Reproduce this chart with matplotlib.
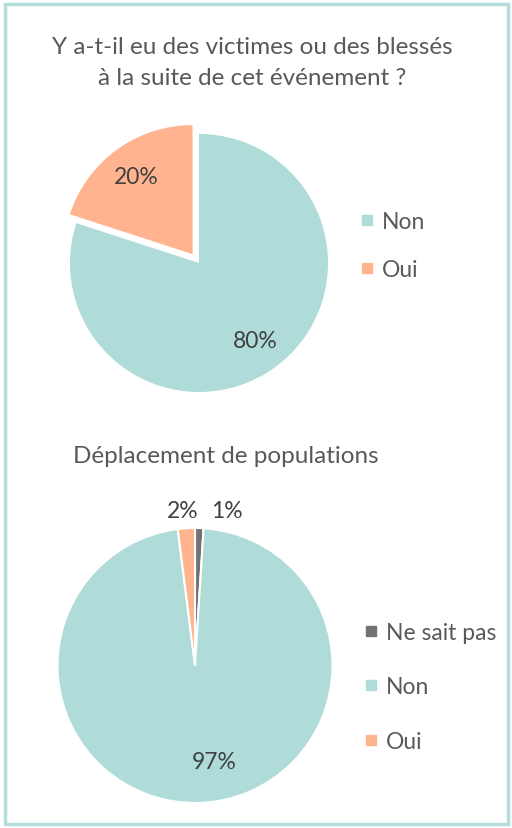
import matplotlib
matplotlib.use("Agg")
import matplotlib.pyplot as plt
from matplotlib.lines import Line2D
from matplotlib.patches import Rectangle

plt.rcParams["font.family"] = ["Lato", "DejaVu Sans"]

# data
title1 = "Y a-t-il eu des victimes ou des blessés\nà la suite de cet événement ?"
labels1 = ["Non", "Oui"]
values1 = [80, 20]
colors1 = ["#afdcd9", "#ffb48f"]

title2 = "Déplacement de populations"
labels2 = ["Ne sait pas", "Non", "Oui"]
values2 = [1, 97, 2]
colors2 = ["#767171", "#afdcd9", "#ffb48f"]

W, H = 512, 829
fig = plt.figure(figsize=(W / 100, H / 100), dpi=100)
txt = "#595959"
pct_col = "#404040"


def px_axes(cx, cy, half):
    # square axes centred at pixel (cx, cy) from top-left
    return fig.add_axes([(cx - half) / W, (H - cy - half) / H, 2 * half / W, 2 * half / H])


# top pie
r1 = 129
lim1 = 1.3
ax1 = px_axes(199, 264, r1 * lim1)
w1, t1, p1 = ax1.pie(values1, colors=colors1, startangle=90, counterclock=False,
                     explode=[0, 0.085], autopct="%d%%", pctdistance=0.74,
                     wedgeprops=dict(linewidth=0),
                     textprops=dict(fontsize=16.5, color=pct_col))
ax1.set_xlim(-lim1, lim1)
ax1.set_ylim(-lim1, lim1)
ax1.axis("off")

fig.text(252 / W, 1 - 63 / H, title1, ha="center", va="center", fontsize=17.5,
         color=txt, linespacing=1.55)

h1 = [Line2D([], [], marker="s", ls="", color=c, markersize=7) for c in colors1]
fig.legend(h1, labels1, loc="center left", bbox_to_anchor=(361 / W, 1 - 246.5 / H),
           frameon=False, fontsize=16.5, labelcolor=txt, handlelength=0.55,
           handletextpad=0.35, labelspacing=1.15, borderpad=0, borderaxespad=0)

# bottom pie
r2 = 137.5
lim2 = 1.2
ax2 = px_axes(195, 666.5, r2 * lim2)
w2, t2, p2 = ax2.pie(values2, colors=colors2, startangle=90, counterclock=False,
                     autopct="%d%%", pctdistance=0.72,
                     wedgeprops=dict(linewidth=1.5, edgecolor="white"),
                     textprops=dict(fontsize=16.5, color=pct_col))
ax2.set_xlim(-lim2, lim2)
ax2.set_ylim(-lim2, lim2)
ax2.axis("off")
# small slices labelled outside
p2[0].set_position((0.23, 1.13))
p2[2].set_position((-0.09, 1.13))
p2[1].set_position((0.14, -0.7))

fig.text(226 / W, 1 - 457 / H, title2, ha="center", va="center", fontsize=17.5,
         color=txt)

h2 = [Line2D([], [], marker="s", ls="", color=c, markersize=7) for c in colors2]
fig.legend(h2, labels2, loc="center left", bbox_to_anchor=(365 / W, 1 - 688 / H),
           frameon=False, fontsize=16.5, labelcolor=txt, handlelength=0.55,
           handletextpad=0.35, labelspacing=1.45, borderpad=0, borderaxespad=0)

# frame around everything
fig.patches.append(Rectangle((4.5 / W, 4.5 / H), 1 - 9 / W, 1 - 9 / H,
                             transform=fig.transFigure, fill=False,
                             edgecolor="#b2dedc", linewidth=2.5))

fig.savefig("out.png", dpi=100)
